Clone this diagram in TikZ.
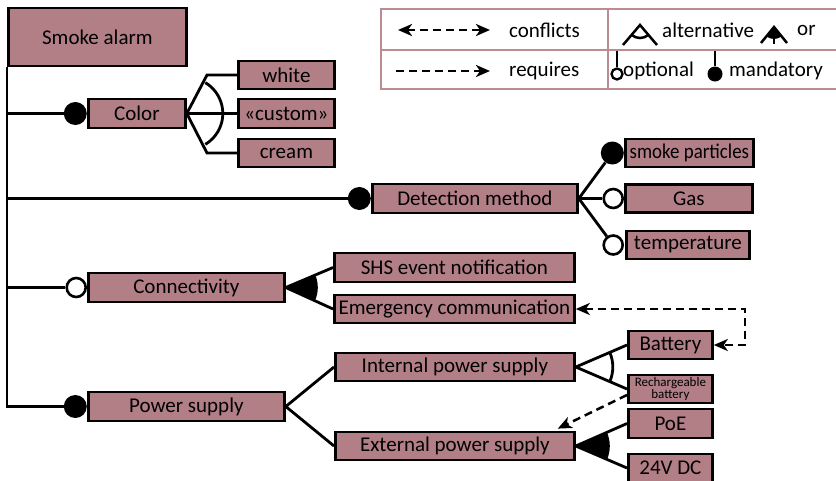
\documentclass[tikz,border=0pt]{standalone}
\usepackage{fontspec}
\usepackage{graphicx}
\setmainfont{Carlito}
\usetikzlibrary{arrows.meta,calc}
\definecolor{featfill}{RGB}{178,127,135}
\definecolor{legendline}{RGB}{189,140,146}
\begin{document}
\begin{tikzpicture}[x=1pt,y=1pt,
  every node/.style={font=\fontsize{21}{24}\selectfont},
  feat/.style={draw=black, line width=2.8pt, fill=featfill, inner sep=0pt,
    minimum height=28pt, anchor=west, align=center},
  link/.style={draw=black, line width=2.8pt},
  mandcirc/.style={circle, fill=black, inner sep=0pt, minimum size=23pt, anchor=east},
  optcirc/.style={circle, draw=black, fill=white, line width=2.6pt, inner sep=0pt,
    minimum size=19pt, anchor=east},
  conflict/.style={line width=2.5pt, dash pattern=on 8pt off 5pt,
    arrows={Stealth[length=14pt,width=12pt,inset=4pt]-Stealth[length=14pt,width=12pt,inset=4pt]}},
  requires/.style={line width=2.5pt, dash pattern=on 8pt off 5pt,
    arrows={-Stealth[length=14pt,width=12pt,inset=4pt]}},
  legtext/.style={anchor=west, inner sep=0pt},
  legline/.style={draw=legendline, line width=2.5pt}]

\useasboundingbox (0,0) rectangle (836,-480);

% ---------- features ----------
\node[feat, minimum width=178pt, minimum height=58pt] (alarm) at (7,-37) {Smoke alarm};
\node[feat, minimum width=97pt, minimum height=29pt] (color) at (87,-113.5) {Color};
\node[feat, minimum width=96pt] (white) at (237,-75) {white};
\node[feat, minimum width=96pt, minimum height=29pt] (custom) at (237,-113.5) {«custom»};
\node[feat, minimum width=96pt] (cream) at (237,-153) {cream};
\node[feat, minimum width=205pt, minimum height=29pt] (detect) at (371,-198.5) {Detection method};
\node[feat, minimum width=128pt] (smoke) at (624,-153) {\scalebox{0.9}[1]{smoke particles}};
\node[feat, minimum width=127pt] (gas) at (624,-198.5) {Gas};
\node[feat, minimum width=123pt] (temp) at (625,-245) {temperature};
\node[feat, minimum width=196pt, minimum height=29pt] (conn) at (87,-287.5) {Connectivity};
\node[feat, minimum width=240pt, minimum height=29pt] (shs) at (333,-267.5) {SHS event notification};
\node[feat, minimum width=240pt] (emerg) at (333,-309) {Emergency communication};
\node[feat, minimum width=196pt, minimum height=29pt] (power) at (87,-406.5) {Power supply};
\node[feat, minimum width=239pt] (intern) at (334,-367) {Internal power supply};
\node[feat, minimum width=239pt] (extern) at (334,-446) {External power supply};
\node[feat, minimum width=84pt] (batt) at (627,-345) {Battery};
\node[feat, minimum width=84pt, font=\fontsize{13}{12}\selectfont] (rech) at (627,-389) {Rechargeable\\battery};
\node[feat, minimum width=84pt, minimum height=29pt] (poe) at (627,-423.5) {PoE};
\node[feat, minimum width=84pt] (dc) at (627,-468) {24V DC};

% ---------- mandatory / optional markers ----------
\node[mandcirc] (colc) at (color.west) {};
\node[mandcirc] (detc) at (detect.west) {};
\node[optcirc] (connc) at (conn.west) {};
\node[mandcirc] (powc) at (power.west) {};
\node[mandcirc] (smokec) at (smoke.west) {};
\node[optcirc] (gasc) at (gas.west) {};
\node[optcirc] (tempc) at ($(temp.west)+(-1,0)$) {};

% ---------- trunk and branches ----------
\draw[link] (alarm.south west) |- (powc.west);
\draw[link] (alarm.south west |- colc.west) -- (colc.west);
\draw[link] (alarm.south west |- detc.west) -- (detc.west);
\draw[link] (alarm.south west |- connc.west) -- (connc.west);

% Color: alternative group
\coordinate (cbend1) at ($(white.west)+(-30,0)$);
\coordinate (cbend3) at ($(cream.west)+(-30,0)$);
\draw[link] (color.east) -- (cbend1) -- (white.west);
\draw[link] (color.east) -- (custom.west);
\draw[link] (color.east) -- (cbend3) -- (cream.west);
\draw[link] ($(color.east)+(59:36)$) arc[start angle=59, end angle=-59, radius=36];

% Detection method: sub-features
\draw[link] (detect.east) -- (smokec);
\draw[link] (detect.east) -- (gasc);
\draw[link] (detect.east) -- (tempc);

% Connectivity: or group
\fill (conn.east) -- ++(21.8:32) arc[start angle=21.8, end angle=-23.3, radius=32] -- cycle;
\draw[link] (conn.east) -- (shs.west);
\draw[link] (conn.east) -- (emerg.west);

% Power supply
\draw[link] (power.east) -- (intern.west);
\draw[link] (power.east) -- (extern.west);
\draw[link] (intern.east) -- (batt.west);
\draw[link] (intern.east) -- (rech.west);
\draw[link] ($(intern.east)+(22.2:37)$) arc[start angle=22.2, end angle=-22.2, radius=37];
\fill (extern.east) -- ++(22.6:34) arc[start angle=22.6, end angle=-22.2, radius=34] -- cycle;
\draw[link] (extern.east) -- (poe.west);
\draw[link] (extern.east) -- (dc.west);

% cross-tree constraints
\coordinate (cturn) at (745,-309);
\draw[conflict] (emerg.east) -- (cturn) |- (batt.east);
\draw[requires] ($(rech.west)+(0,-6)$) -- ($(extern.north east)+(-18,2)$);

% ---------- legend ----------
\draw[legline] (836,-9) -- (381,-9) -- (381,-89) -- (836,-89);
\draw[legline] (381,-50) -- (836,-50);
\draw[legline] (608,-9) -- (608,-89);

\coordinate (lc1) at (398,-30);
\coordinate (lc2) at (490,-30);
\draw[conflict] (lc1) -- (lc2);
\node[legtext] (lconf) at (509,-30) {conflicts};

\coordinate (lr1) at (396,-71);
\coordinate (lr2) at (490,-71);
\draw[requires] (lr1) -- (lr2);
\node[legtext] (lreq) at (509,-71) {requires};

% alternative symbol
\coordinate (la) at (640,-25);
\draw[link, line width=2.5pt] ($(la)+(-17,-20)$) -- (la) -- ($(la)+(17,-20)$);
\draw[link, line width=2.5pt] ($(la)+(229.6:13)$) arc[start angle=229.6, end angle=310.4, radius=13];
\node[legtext] (lalt) at (662,-30) {alternative};

% or symbol
\coordinate (lo) at (774,-27);
\fill (lo) -- ++(229:12) arc[start angle=229, end angle=311, radius=12] -- cycle;
\draw[link, line width=2.5pt] ($(lo)+(-13,-16)$) -- (lo) -- ($(lo)+(13,-16)$);
\draw[link, line width=2.5pt] (lo) -- ++(0,-17);
\node[legtext] (lor) at (797,-30) {or};

% optional / mandatory symbols
\node[circle, draw=black, line width=2.3pt, fill=white, inner sep=0pt, minimum size=11pt] (lopt) at (617,-74) {};
\draw[link, line width=2.5pt] (617,-51) -- (lopt.north);
\node[legtext] (loptt) at (623,-71) {optional};
\node[circle, fill=black, inner sep=0pt, minimum size=15pt] (lman) at (715,-74) {};
\draw[link, line width=2.5pt] (715,-51) -- (lman.north);
\node[legtext] (lmant) at (729,-71) {mandatory};
\end{tikzpicture}
\end{document}
